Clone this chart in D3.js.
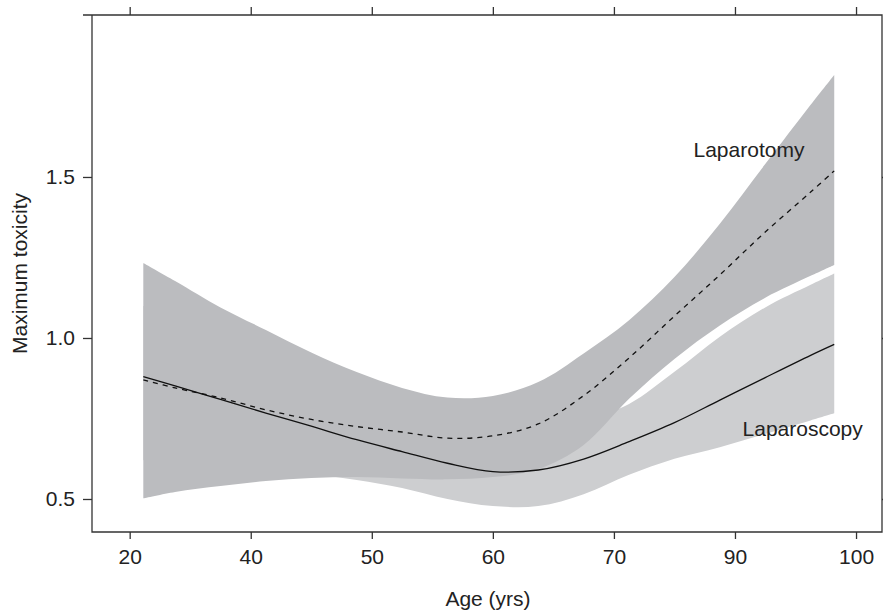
<!DOCTYPE html>
<html>
<head>
<meta charset="utf-8">
<script src="https://cdn.jsdelivr.net/npm/d3@7"></script>
<style>
  body { margin: 0; background: #fff; }
  svg { display: block; font-family: "Liberation Sans", Arial, sans-serif; }
</style>
</head>
<body>
<script>
const width = 883, height = 610;
const marginTop = 15, marginBottom = 78, marginLeft = 92, marginRight = 1;

// age (yrs) at which the fitted curves were read
const ages = [21.5, 25, 30, 35, 40, 45, 50, 55, 60, 65, 70, 75, 80, 85, 90, 95, 97.6];

// Laparotomy: dashed fit + dark band
const laparotomyFit   = [0.870, 0.845, 0.814, 0.777, 0.747, 0.725, 0.708, 0.689, 0.696, 0.733, 0.821, 0.938, 1.068, 1.196, 1.329, 1.453, 1.519];
const laparotomyUpper = [1.233, 1.177, 1.095, 1.025, 0.955, 0.894, 0.845, 0.815, 0.820, 0.863, 0.952, 1.055, 1.189, 1.355, 1.540, 1.724, 1.817];
const laparotomyLower = [0.502, 0.522, 0.540, 0.556, 0.565, 0.568, 0.564, 0.561, 0.568, 0.593, 0.668, 0.811, 0.935, 1.039, 1.125, 1.193, 1.227];

// Laparoscopy: solid fit + light band
const laparoscopyFit   = [0.880, 0.851, 0.809, 0.767, 0.726, 0.684, 0.647, 0.611, 0.585, 0.590, 0.624, 0.678, 0.737, 0.807, 0.877, 0.946, 0.980];
const laparoscopyUpper = [1.100, 1.040, 0.970, 0.910, 0.860, 0.810, 0.770, 0.730, 0.700, 0.690, 0.740, 0.795, 0.895, 1.004, 1.095, 1.165, 1.200];
const laparoscopyLower = [0.620, 0.610, 0.600, 0.590, 0.578, 0.559, 0.534, 0.500, 0.478, 0.478, 0.515, 0.575, 0.625, 0.661, 0.702, 0.744, 0.766];

// x tick labels as printed (evenly spaced on the axis)
const xTickLabels = ['20', '40', '50', '60', '70', '90', '100'];
const yTicks = [0.5, 1.0, 1.5];

// in-plot labels: [text, age, value]
const seriesLabels = [
    ['Laparotomy', 82.1, 1.562],
    ['Laparoscopy', 87.5, 0.696]
];

const x = d3.scaleLinear().domain([15.85, 102.86]).range([marginLeft, width - marginRight]);
const y = d3.scaleLinear().domain([0.3975, 2.003]).range([height - marginBottom, marginTop]);
const xTickValues = d3.range(xTickLabels.length).map(i => 20 + i * 80 / (xTickLabels.length - 1));

const rows = ages.map((a, i) => ({
    age: a,
    openFit: laparotomyFit[i], openHi: laparotomyUpper[i], openLo: laparotomyLower[i],
    scopeFit: laparoscopyFit[i], scopeHi: laparoscopyUpper[i], scopeLo: laparoscopyLower[i]
}));

const curve = d3.curveCatmullRom.alpha(0.5);
const axisColor = '#333';
const textColor = '#222';
const fontSize = 21;

const svg = d3.select('body').append('svg').attr('width', width).attr('height', height);

const band = (lo, hi) => d3.area().curve(curve).x(d => x(d.age)).y0(d => y(d[lo])).y1(d => y(d[hi]));
const line = key => d3.line().curve(curve).x(d => x(d.age)).y(d => y(d[key]));

svg.append('path')
    .datum(rows)
    .attr('fill', '#cdced0')
    .attr('d', band('scopeLo', 'scopeHi'));

svg.append('path')
    .datum(rows)
    .attr('fill', '#bbbcbf')
    .attr('d', band('openLo', 'openHi'));

svg.append('path')
    .datum(rows)
    .attr('fill', 'none')
    .attr('stroke', '#111')
    .attr('stroke-width', 1.3)
    .attr('d', line('scopeFit'));

svg.append('path')
    .datum(rows)
    .attr('fill', 'none')
    .attr('stroke', '#111')
    .attr('stroke-width', 1.3)
    .attr('stroke-dasharray', '5,5')
    .attr('d', line('openFit'));

// axes
const styleAxis = g => {
    g.select('.domain').remove();
    g.selectAll('.tick line').attr('stroke', axisColor).attr('stroke-width', 1.3);
    g.selectAll('.tick text').attr('fill', textColor).style('font-size', fontSize + 'px').style('font-family', '"Liberation Sans", Arial, sans-serif');
};

svg.append('g')
    .attr('transform', `translate(0, ${height - marginBottom})`)
    .call(d3.axisBottom(x).tickValues(xTickValues).tickFormat((d, i) => xTickLabels[i]).tickSize(7).tickPadding(10))
    .call(styleAxis);

svg.append('g')
    .attr('transform', `translate(0, ${marginTop})`)
    .call(d3.axisTop(x).tickValues(xTickValues).tickFormat('').tickSize(8))
    .call(styleAxis);

svg.append('g')
    .attr('transform', `translate(${marginLeft}, 0)`)
    .call(d3.axisLeft(y).tickValues(yTicks).tickFormat(d3.format('.1f')).tickSize(9).tickPadding(8))
    .call(styleAxis);

svg.append('g')
    .attr('transform', `translate(${width - marginRight}, 0)`)
    .call(d3.axisRight(y).tickValues(yTicks).tickFormat('').tickSize(9))
    .call(styleAxis);

// frame (top edge runs a tick length past the left side)
const [x0, x1] = x.range();
const [yb, yt] = y.range();
svg.append('path')
    .attr('fill', 'none')
    .attr('stroke', axisColor)
    .attr('stroke-width', 1.3)
    .attr('d', `M${x0 - 9},${yt}H${x1}V${yb}H${x0}V${yt}`);

// titles
svg.append('text')
    .attr('x', (x0 + x1) / 2 + 1)
    .attr('y', height - 4)
    .attr('text-anchor', 'middle')
    .attr('fill', textColor)
    .style('font-size', fontSize + 'px')
    .text('Age (yrs)');

svg.append('text')
    .attr('transform', `translate(27, ${(yt + yb) / 2})rotate(-90)`)
    .attr('text-anchor', 'middle')
    .attr('fill', textColor)
    .style('font-size', fontSize + 'px')
    .text('Maximum toxicity');

svg.append('g')
    .selectAll('text')
    .data(seriesLabels)
    .join('text')
    .attr('x', d => x(d[1]))
    .attr('y', d => y(d[2]))
    .attr('fill', textColor)
    .style('font-size', fontSize + 'px')
    .text(d => d[0]);
</script>
</body>
</html>
